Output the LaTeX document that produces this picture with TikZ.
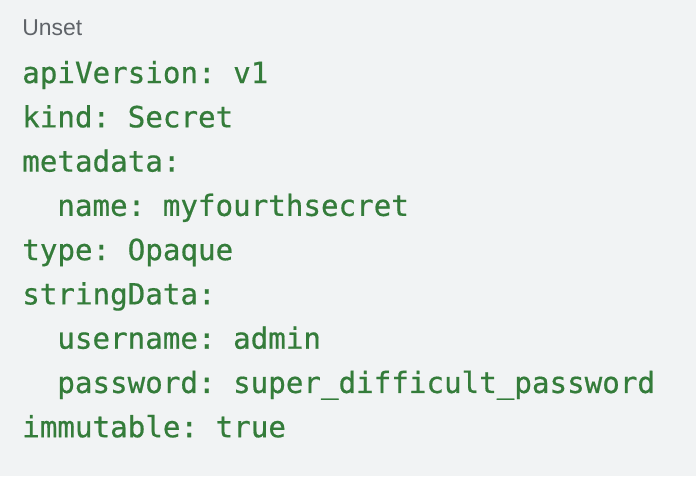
\documentclass[tikz,border=0pt]{standalone}
\usepackage{fontspec}
\setmainfont{Liberation Sans}
\setmonofont[FakeBold=0.6,AutoFakeBold=0.6]{DejaVu Sans Mono}
\definecolor{codebg}{HTML}{F1F3F4}
\definecolor{codegreen}{RGB}{52,124,58}
\definecolor{langgray}{HTML}{5F6368}
\tikzset{
  codeline/.style={anchor=base west,inner sep=0pt,text=codegreen,font=\ttfamily\bfseries\fontsize{21.9pt}{26pt}\selectfont},
  langtag/.style={anchor=base west,inner sep=0pt,text=langgray,font=\fontsize{17.2pt}{20pt}\selectfont}
}
\begin{document}
\begin{tikzpicture}[x=1pt,y=1pt]
				\fill[codebg] (0,0) rectangle (522,-357);
				\useasboundingbox (0,0) rectangle (522,-357);
				\node[langtag] (lang) at (16.5,-26.3) {Unset};
				% one line of the manifest every 33.2pt
				\node[codeline] (apiver) at (16.5,-62.3) {apiVersion: v1};
				\node[codeline] (kind) at (16.5,-95.5) {kind: Secret};
				\node[codeline] (meta) at (16.5,-128.7) {metadata:};
				\node[codeline] (name) at (42.8,-161.9) {name: myfourthsecret};
				\node[codeline] (type) at (16.5,-195.1) {type: Opaque};
				\node[codeline] (strdata) at (16.5,-228.3) {stringData:};
				\node[codeline] (user) at (42.8,-261.5) {username: admin};
				\node[codeline] (pass) at (42.8,-294.7) {password: super\_difficult\_password};
				\node[codeline] (immut) at (16.5,-327.9) {immutable: true};
			\end{tikzpicture}
\end{document}
